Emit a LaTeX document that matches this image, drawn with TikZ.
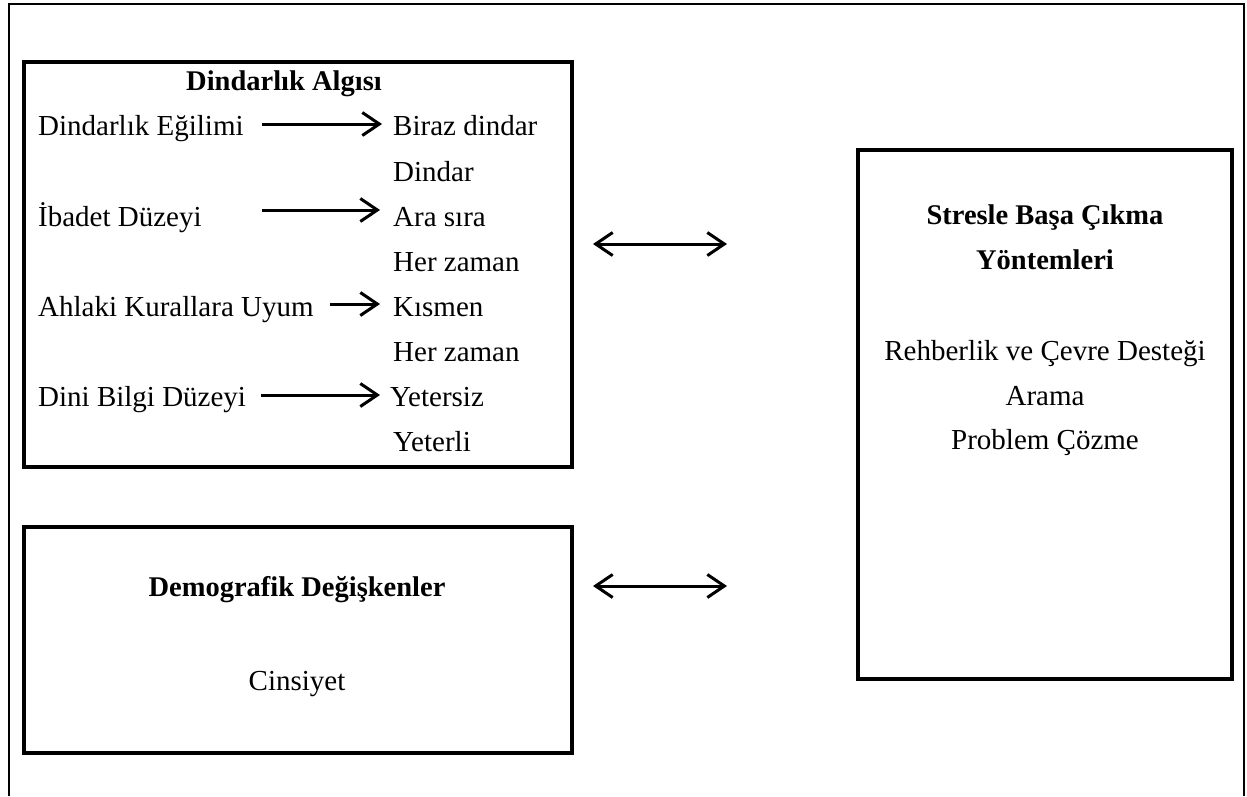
\documentclass[tikz,border=0pt]{standalone}
\usepackage{fontspec}
\setmainfont{Liberation Serif}
\usetikzlibrary{arrows.meta}
\begin{document}
\begin{tikzpicture}[x=1pt,y=-1pt,
  frame/.style={line width=2.6pt},
  boxshape/.style={draw,line width=3.4pt,inner sep=0pt},
  txt/.style={inner sep=0pt,font=\fontsize{29}{34}\selectfont},
  ttl/.style={inner sep=0pt,font=\fontsize{28.5}{34}\selectfont\bfseries},
  conn/.style={line width=3pt,-{Straight Barb[length=17pt,width=23pt,line width=3pt]}},
  dconn/.style={line width=3pt,{Straight Barb[length=17pt,width=23pt,line width=3pt]}-{Straight Barb[length=17pt,width=23pt,line width=3pt]}}
]
\useasboundingbox (0,0) rectangle (1247,796);
\draw[frame] (9,796) -- (9,4) -- (1244,4) -- (1244,796);

% boxes
\node[boxshape,minimum width=548pt,minimum height=405pt] (b1) at (298,264.5) {};
\node[boxshape,minimum width=548pt,minimum height=226pt] (b2) at (298,640) {};
\node[boxshape,minimum width=374pt,minimum height=529pt] (b3) at (1045,414.5) {};

% box 1
\node[ttl,anchor=base] (t1) at (284,90) {Dindarlık Algısı};
\node[txt,anchor=base west] (l1) at (38,135) {Dindarlık Eğilimi};
\node[txt,anchor=base west] (l2) at (38,226) {İbadet Düzeyi};
\node[txt,anchor=base west] (l3) at (38,316) {Ahlaki Kurallara Uyum};
\node[txt,anchor=base west] (l4) at (38,406) {Dini Bilgi Düzeyi};

\node[txt,anchor=base west] (r1) at (393,135) {Biraz dindar};
\node[txt,anchor=base west] (r2) at (393,181) {Dindar};
\node[txt,anchor=base west] (r3) at (393,226) {Ara sıra};
\node[txt,anchor=base west] (r4) at (393,271) {Her zaman};
\node[txt,anchor=base west] (r5) at (393,316) {Kısmen};
\node[txt,anchor=base west] (r6) at (393,361) {Her zaman};
\node[txt,anchor=base west] (r7) at (390,406) {Yetersiz};
\node[txt,anchor=base west] (r8) at (393,451) {Yeterli};

\coordinate (a1s) at (262,124); \coordinate (a1e) at (382,124);
\coordinate (a2s) at (262,210); \coordinate (a2e) at (380,210);
\coordinate (a3s) at (330,304); \coordinate (a3e) at (380,304);
\coordinate (a4s) at (261,395); \coordinate (a4e) at (380,395);
\draw[conn] (a1s) -- (a1e);
\draw[conn] (a2s) -- (a2e);
\draw[conn] (a3s) -- (a3e);
\draw[conn] (a4s) -- (a4e);

% box 2
\node[ttl,anchor=base] (t2) at (297,596) {Demografik Değişkenler};
\node[txt,anchor=base] (c1) at (297,690) {Cinsiyet};

% box 3
\node[ttl,anchor=base] (t3a) at (1045,224) {Stresle Başa Çıkma};
\node[ttl,anchor=base] (t3b) at (1045,269) {Yöntemleri};
\node[txt,anchor=base] (s1) at (1045,360) {Rehberlik ve Çevre Desteği};
\node[txt,anchor=base] (s2) at (1045,405) {Arama};
\node[txt,anchor=base] (s3) at (1045,449) {Problem Çözme};

% double arrows
\coordinate (d1s) at (593,244); \coordinate (d1e) at (727,244);
\coordinate (d2s) at (593,586); \coordinate (d2e) at (727,586);
\draw[dconn] (d1s) -- (d1e);
\draw[dconn] (d2s) -- (d2e);
\end{tikzpicture}
\end{document}
